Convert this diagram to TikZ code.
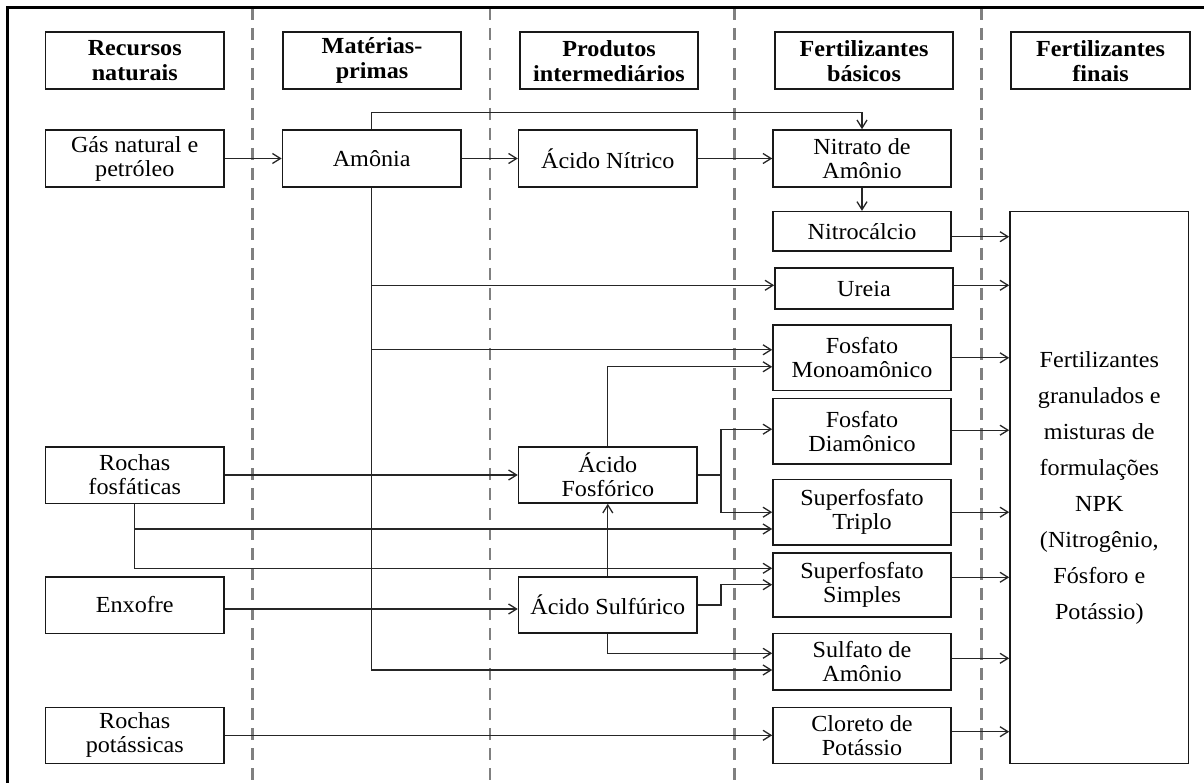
\documentclass[tikz,border=0pt]{standalone}
\usepackage{fontspec}
\setmainfont{Liberation Serif}[FakeStretch=1.05]
\usetikzlibrary{arrows.meta,calc}
\begin{document}
\begin{tikzpicture}[x=1pt,y=-1pt,
  box/.style={draw=black!90,line width=1.6pt,fill=white,inner sep=0pt,align=center,font=\fontsize{23}{24}\selectfont},
  hbox/.style={box,font=\bfseries\fontsize{23}{25}\selectfont},
  sz/.style 2 args={minimum width=#1pt,minimum height=#2pt},
  conn/.style={draw=black!85,line width=1.3pt},
  arr/.style={conn,-{Straight Barb[length=8pt,width=10pt,line width=1.3pt]}},
  sep/.style={draw=black!50,line width=2.8pt,dash pattern=on 12pt off 8pt}]
\useasboundingbox (0,0) rectangle (1204,783);
% column separators
\foreach \x in {252.6,489.9,734.8,981.4} \draw[sep] (\x,8) -- (\x,783);
% outer frame
\draw[line width=3pt] (7,783) -- (7,8) -- (1204,8);
% headers
\node[hbox,sz={178.5}{57}] (hrec) at (134.75,60.8) {Recursos\\naturais};
\node[hbox,sz={178.5}{57}] (hmat) at (372,60.8) {Matérias-\\primas};
\node[hbox,sz={178}{57}] (hprod) at (609,60.8) {Produtos\\intermediários};
\node[hbox,sz={178}{57}] (hbas) at (864,60.8) {Fertilizantes\\básicos};
\node[hbox,sz={179}{57}] (hfin) at (1100.5,60.8) {Fertilizantes\\finais};
% row 1
\node[box,sz={178.5}{57}] (gas) at (134.75,158.5) {Gás natural e\\petróleo};
\node[box,sz={178.5}{57}] (amonia) at (371.7,158.5) {Amônia};
\node[box,sz={178.5}{57}] (nitrico) at (607.8,158.5) {Ácido Nítrico};
\node[box,sz={178}{57}] (nitrato) at (862,158.5) {Nitrato de\\Amônio};
% basic fertilisers
\node[box,sz={178}{39.3}] (nitrocalcio) at (862,231.3) {Nitrocálcio};
\node[box,sz={178}{41}] (ureia) at (864,288.8) {Ureia};
\node[box,sz={178}{65.7}] (mono) at (862,357.8) {Fosfato\\Monoamônico};
\node[box,sz={178}{65.7}] (di) at (862,431.2) {Fosfato\\Diamônico};
\node[box,sz={178}{65.7}] (triplo) at (862,512.2) {Superfosfato\\Triplo};
\node[box,sz={178}{64}] (simples) at (862,584.7) {Superfosfato\\Simples};
\node[box,sz={178}{56.7}] (sulfato) at (862,661.7) {Sulfato de\\Amônio};
\node[box,sz={178}{56}] (cloreto) at (862,735.3) {Cloreto de\\Potássio};
% natural resources
\node[box,sz={178.5}{56.6}] (rochasf) at (134.75,475) {Rochas\\fosfáticas};
\node[box,sz={178.5}{56.6}] (enxofre) at (134.75,605) {Enxofre};
\node[box,sz={178.5}{56}] (rochasp) at (134.75,735.3) {Rochas\\potássicas};
% intermediates
\node[box,sz={178.5}{56}] (fosforico) at (607.8,475) {Ácido\\Fosfórico};
\node[box,sz={178.5}{56}] (sulfurico) at (607.8,605) {Ácido Sulfúrico};
% final
\node[box,sz={178.6}{551.6},font=\fontsize{23}{36}\selectfont] (final) at (1099.3,487.5)
  {Fertilizantes\\granulados e\\misturas de\\formulações\\NPK\\(Nitrogênio,\\Fósforo e\\Potássio)};
% connectors
\draw[arr] (gas.east) -- (amonia.west);
\draw[arr] (amonia.east) -- (nitrico.west);
\draw[arr] (nitrico.east) -- (nitrato.west);
\draw[arr] (amonia.north) -- ++(0,-17) -| (nitrato.north);
\draw[arr] (nitrato.south) -- (nitrocalcio.north);
\draw[arr] (amonia.south) |- ([yshift=3.5pt]ureia.west);
\draw[arr] (amonia.south) |- ([yshift=8pt]mono.west);
\draw[arr] (amonia.south) |- ([yshift=-8.3pt]sulfato.west);
\draw[arr] (fosforico.north) |- ([yshift=-9pt]mono.west);
\draw[arr] (rochasf.east) -- (fosforico.west);
\draw[arr] (fosforico.east) -- ++(23,0) |- ([yshift=2pt]di.west);
\draw[arr] (fosforico.east) -- ++(23,0) |- (triplo.west);
\draw[arr] (rochasf.south) |- ([yshift=-16.8pt]triplo.west);
\draw[arr] (rochasf.south) |- ([yshift=16.4pt]simples.west);
\draw[arr] ([yshift=-4pt]enxofre.east) -- ([yshift=-4pt]sulfurico.west);
\draw[arr] (sulfurico.north) -- (fosforico.south);
\draw[arr] (sulfurico.east) -- ++(23,0) |- (simples.west);
\draw[arr] (sulfurico.south) |- ([yshift=8.4pt]sulfato.west);
\draw[arr] (rochasp.east) -- (cloreto.west);
\foreach \n/\s in {nitrocalcio/-5.4,ureia/3.5,mono/0,di/1,triplo/0,simples/7.4,sulfato/3.4,cloreto/3.6}{
  \path ([yshift=\s pt]\n.east) coordinate (tmp);
  \draw[arr] (tmp) -- (tmp -| final.west);
}
\end{tikzpicture}
\end{document}
